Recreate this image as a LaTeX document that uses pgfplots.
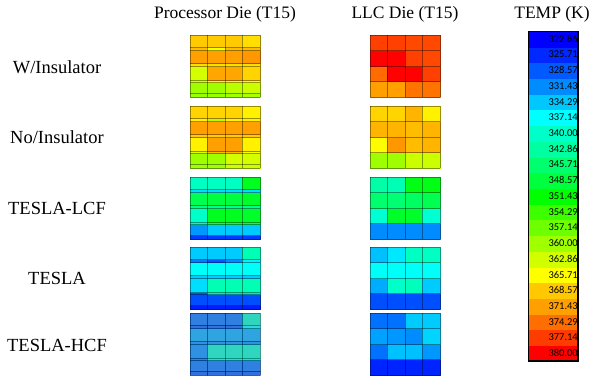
\documentclass[border=0pt]{standalone}
\usepackage{pgfplots}
\pgfplotsset{compat=1.18}
\usepackage{fontspec}
\setmainfont{Liberation Serif}
\newfontfamily\cbfont{Carlito}
\definecolor{hcfbg}{RGB}{120,150,180}
\tikzset{cbl/.style={anchor=east, inner sep=0pt, text=black, font=\cbfont\fontsize{10.5}{12}\selectfont}}
\pgfplotsset{
  colormap={temp}{rgb255=(0,0,255) rgb255=(0,40,255) rgb255=(0,90,255) rgb255=(0,140,255) rgb255=(0,200,255) rgb255=(0,255,255) rgb255=(0,255,200) rgb255=(0,255,160) rgb255=(0,255,110) rgb255=(0,255,60) rgb255=(0,255,0) rgb255=(60,255,0) rgb255=(110,255,0) rgb255=(160,255,0) rgb255=(210,255,0) rgb255=(255,255,0) rgb255=(255,200,0) rgb255=(255,160,0) rgb255=(255,110,0) rgb255=(255,60,0) rgb255=(255,0,0)},
  hmbase/.style={
    view={0}{90}, scale only axis, width=70pt, height=62pt, anchor=south west,
    xmin=0, xmax=4, ymin=0, ymax=62, zmin=-1, zmax=1,
    colormap name=temp, point meta min=321.43, point meta max=378.57,
    xtick={0,1,2,3,4}, xticklabels={}, yticklabels={}, ztick=\empty,
    grid=major, major grid style={black, opacity=0.4, line width=0.45pt},
    axis on top, axis line style={draw=none}, major tick length=0pt, clip=false,
  },
  hmP/.style={hmbase, ytick={0,3.5,14.5,17,31,33.5,47,50,62}},
  hmL/.style={hmbase, ytick={0,15.5,31,46.5,62}},
  hs/.style={surf, shader=flat corner, mesh/cols=5, point meta=\thisrow{t}},
}
\begin{document}
\begin{tikzpicture}
\useasboundingbox (0,0) rectangle (597pt,375pt);
% titles
\node[font=\fontsize{17.5}{20}\selectfont] at (225pt,361pt) {Processor Die (T15)};
\node[font=\fontsize{17.5}{20}\selectfont] at (405pt,361pt) {LLC Die (T15)};
\node[font=\fontsize{17.5}{20}\selectfont] at (552pt,361pt) {TEMP (K)};
% row labels
\node[font=\fontsize{18.5}{21}\selectfont] at (57pt,308pt) {W/Insulator};
\node[font=\fontsize{18.5}{21}\selectfont] at (57pt,238pt) {No/Insulator};
\node[font=\fontsize{18.5}{21}\selectfont] at (57pt,167pt) {TESLA-LCF};
\node[font=\fontsize{18.5}{21}\selectfont] at (57pt,97pt) {TESLA};
\node[font=\fontsize{18.5}{21}\selectfont] at (57pt,30pt) {TESLA-HCF};

% ---------- W/Insulator ----------
\begin{axis}[hmP, at={(190pt,278pt)}]
\addplot3[hs] table[row sep=\\, x=x, y=y, z expr=0] {
x y t\\
0 62 367\\ 1 62 367\\ 2 62 367\\ 3 62 366\\ 4 62 366\\
0 50 368\\ 1 50 364\\ 2 50 368\\ 3 50 368\\ 4 50 368\\
0 47 370\\ 1 47 370\\ 2 47 370\\ 3 47 370.5\\ 4 47 370.5\\
0 33.5 366\\ 1 33.5 366\\ 2 33.5 366\\ 3 33.5 366\\ 4 33.5 366\\
0 31 361.5\\ 1 31 369.5\\ 2 31 369.5\\ 3 31 366.5\\ 4 31 366.5\\
0 17 362\\ 1 17 364\\ 2 17 364\\ 3 17 364\\ 4 17 364\\
0 14.5 358.5\\ 1 14.5 358.5\\ 2 14.5 360\\ 3 14.5 361\\ 4 14.5 361\\
0 3.5 358\\ 1 3.5 358\\ 2 3.5 358.5\\ 3 3.5 359\\ 4 3.5 359\\
0 0 358\\ 1 0 358\\ 2 0 358.5\\ 3 0 359\\ 4 0 359\\
};
\end{axis}
\begin{axis}[hmL, at={(370pt,278pt)}]
\addplot3[hs] table[row sep=\\, x=x, y=y, z expr=0] {
x y t\\
0 62 375.5\\ 1 62 375.5\\ 2 62 375\\ 3 62 375\\ 4 62 375\\
0 46.5 378.5\\ 1 46.5 378.5\\ 2 46.5 375.5\\ 3 46.5 375\\ 4 46.5 375\\
0 31 373\\ 1 31 378.5\\ 2 31 378.5\\ 3 31 375.5\\ 4 31 375.5\\
0 15.5 370\\ 1 15.5 370\\ 2 15.5 372.5\\ 3 15.5 372.5\\ 4 15.5 372.5\\
0 0 370\\ 1 0 370\\ 2 0 372.5\\ 3 0 372.5\\ 4 0 372.5\\
};
\end{axis}

% ---------- No/Insulator ----------
\begin{axis}[hmP, at={(190pt,207pt)}]
\addplot3[hs] table[row sep=\\, x=x, y=y, z expr=0] {
x y t\\
0 62 366.5\\ 1 62 366.5\\ 2 62 366.5\\ 3 62 365\\ 4 62 365\\
0 50 365\\ 1 50 360\\ 2 50 365\\ 3 50 365\\ 4 50 365\\
0 47 370\\ 1 47 370\\ 2 47 370\\ 3 47 370\\ 4 47 370\\
0 33.5 367\\ 1 33.5 367\\ 2 33.5 367\\ 3 33.5 367\\ 4 33.5 367\\
0 31 365\\ 1 31 370\\ 2 31 370\\ 3 31 365\\ 4 31 365\\
0 17 362\\ 1 17 368\\ 2 17 368\\ 3 17 364\\ 4 17 364\\
0 14.5 358.5\\ 1 14.5 358.5\\ 2 14.5 361.5\\ 3 14.5 361.5\\ 4 14.5 361.5\\
0 3.5 358.5\\ 1 3.5 358.5\\ 2 3.5 361\\ 3 3.5 361\\ 4 3.5 361\\
0 0 358.5\\ 1 0 358.5\\ 2 0 361\\ 3 0 361\\ 4 0 361\\
};
\end{axis}
\begin{axis}[hmL, at={(370pt,207pt)}]
\addplot3[hs] table[row sep=\\, x=x, y=y, z expr=0] {
x y t\\
0 62 366.5\\ 1 62 366.5\\ 2 62 368.5\\ 3 62 365\\ 4 62 365\\
0 46.5 368.5\\ 1 46.5 368.5\\ 2 46.5 368\\ 3 46.5 368.5\\ 4 46.5 368.5\\
0 31 364.5\\ 1 31 370.5\\ 2 31 368\\ 3 31 368.5\\ 4 31 368.5\\
0 15.5 358.5\\ 1 15.5 358.5\\ 2 15.5 361\\ 3 15.5 361\\ 4 15.5 361\\
0 0 358.5\\ 1 0 358.5\\ 2 0 361\\ 3 0 361\\ 4 0 361\\
};
\end{axis}

% ---------- TESLA-LCF ----------
\begin{axis}[hmP, at={(190pt,136pt)}]
\addplot3[hs] table[row sep=\\, x=x, y=y, z expr=0] {
x y t\\
0 62 339\\ 1 62 339\\ 2 62 339\\ 3 62 348.5\\ 4 62 348.5\\
0 50 334\\ 1 50 334\\ 2 50 334\\ 3 50 334\\ 4 50 334\\
0 47 346\\ 1 47 347\\ 2 47 347\\ 3 47 348\\ 4 47 348\\
0 33.5 343\\ 1 33.5 343\\ 2 33.5 343\\ 3 33.5 343\\ 4 33.5 343\\
0 31 338.5\\ 1 31 348.5\\ 2 31 348.5\\ 3 31 348\\ 4 31 348\\
0 17 340\\ 1 17 345\\ 2 17 345\\ 3 17 345\\ 4 17 345\\
0 14.5 330.5\\ 1 14.5 333\\ 2 14.5 333\\ 3 14.5 333\\ 4 14.5 333\\
0 3.5 325.5\\ 1 3.5 325.5\\ 2 3.5 325.5\\ 3 3.5 325.5\\ 4 3.5 325.5\\
0 0 325.5\\ 1 0 325.5\\ 2 0 325.5\\ 3 0 325.5\\ 4 0 325.5\\
};
\end{axis}
\begin{axis}[hmL, at={(370pt,136pt)}]
\addplot3[hs] table[row sep=\\, x=x, y=y, z expr=0] {
x y t\\
0 62 341\\ 1 62 340\\ 2 62 349\\ 3 62 349\\ 4 62 349\\
0 46.5 344.3\\ 1 46.5 344\\ 2 46.5 345\\ 3 46.5 346\\ 4 46.5 346\\
0 31 338\\ 1 31 348\\ 2 31 348\\ 3 31 338\\ 4 31 338\\
0 15.5 330\\ 1 15.5 330\\ 2 15.5 330\\ 3 15.5 330\\ 4 15.5 330\\
0 0 330\\ 1 0 330\\ 2 0 330\\ 3 0 330\\ 4 0 330\\
};
\end{axis}

% ---------- TESLA ----------
\begin{axis}[hmP, at={(190pt,66pt)}]
\addplot3[hs] table[row sep=\\, x=x, y=y, z expr=0] {
x y t\\
0 62 333\\ 1 62 333\\ 2 62 333\\ 3 62 340\\ 4 62 340\\
0 50 329\\ 1 50 327\\ 2 50 330\\ 3 50 335\\ 4 50 335\\
0 47 336\\ 1 47 336\\ 2 47 336\\ 3 47 336\\ 4 47 336\\
0 33.5 333\\ 1 33.5 333\\ 2 33.5 333\\ 3 33.5 333\\ 4 33.5 333\\
0 31 334\\ 1 31 340\\ 2 31 340\\ 3 31 340\\ 4 31 340\\
0 17 327\\ 1 17 334\\ 2 17 334\\ 3 17 334\\ 4 17 334\\
0 14.5 326.5\\ 1 14.5 326.5\\ 2 14.5 326.5\\ 3 14.5 326.5\\ 4 14.5 326.5\\
0 3.5 323.5\\ 1 3.5 323.5\\ 2 3.5 323.5\\ 3 3.5 323.5\\ 4 3.5 323.5\\
0 0 323.5\\ 1 0 323.5\\ 2 0 323.5\\ 3 0 323.5\\ 4 0 323.5\\
};
\end{axis}
\begin{axis}[hmL, at={(370pt,66pt)}]
\addplot3[hs] table[row sep=\\, x=x, y=y, z expr=0] {
x y t\\
0 62 332.5\\ 1 62 334.5\\ 2 62 339\\ 3 62 339\\ 4 62 339\\
0 46.5 336\\ 1 46.5 336\\ 2 46.5 336\\ 3 46.5 336\\ 4 46.5 336\\
0 31 331.5\\ 1 31 338.5\\ 2 31 339.5\\ 3 31 333\\ 4 31 333\\
0 15.5 326.5\\ 1 15.5 326.5\\ 2 15.5 326.5\\ 3 15.5 326.5\\ 4 15.5 326.5\\
0 0 326.5\\ 1 0 326.5\\ 2 0 326.5\\ 3 0 326.5\\ 4 0 326.5\\
};
\end{axis}

% ---------- TESLA-HCF ----------
\begin{axis}[hmP, at={(190pt,0pt)}]
\fill[hcfbg] (axis cs:0,0,0) rectangle (axis cs:4,62,0);
\addplot3[hs, opacity=0.6] table[row sep=\\, x=x, y=y, z expr=0] {
x y t\\
0 62 328.5\\ 1 62 328.5\\ 2 62 328.5\\ 3 62 338.5\\ 4 62 338.5\\
0 50 327\\ 1 50 327\\ 2 50 327\\ 3 50 336\\ 4 50 336\\
0 47 331.5\\ 1 47 331.5\\ 2 47 331.5\\ 3 47 331.5\\ 4 47 331.5\\
0 33.5 330\\ 1 33.5 330\\ 2 33.5 330\\ 3 33.5 330\\ 4 33.5 330\\
0 31 330\\ 1 31 338.5\\ 2 31 338.5\\ 3 31 338.5\\ 4 31 338.5\\
0 17 329\\ 1 17 336\\ 2 17 336\\ 3 17 336\\ 4 17 336\\
0 14.5 328.5\\ 1 14.5 328.5\\ 2 14.5 328.5\\ 3 14.5 328.5\\ 4 14.5 328.5\\
0 3.5 327\\ 1 3.5 327\\ 2 3.5 327\\ 3 3.5 327\\ 4 3.5 327\\
0 0 327\\ 1 0 327\\ 2 0 327\\ 3 0 327\\ 4 0 327\\
};
\end{axis}
\begin{axis}[hmL, at={(370pt,0pt)}]
\addplot3[hs] table[row sep=\\, x=x, y=y, z expr=0] {
x y t\\
0 62 328.5\\ 1 62 328.5\\ 2 62 333\\ 3 62 333\\ 4 62 333\\
0 46.5 331\\ 1 46.5 330.5\\ 2 46.5 330\\ 3 46.5 333.5\\ 4 46.5 333.5\\
0 31 328.5\\ 1 31 332.5\\ 2 31 332.5\\ 3 31 330.5\\ 4 31 330.5\\
0 15.5 324\\ 1 15.5 324\\ 2 15.5 324\\ 3 15.5 324\\ 4 15.5 324\\
0 0 324\\ 1 0 324\\ 2 0 324\\ 3 0 324\\ 4 0 324\\
};
\end{axis}

% ---------- colour bar ----------
\begin{axis}[view={0}{90}, scale only axis, width=50pt, height=330pt, at={(528pt,14pt)}, anchor=south west,
  xmin=0, xmax=1, ymin=0, ymax=21, zmin=-1, zmax=1, hide axis, clip=false,
  colormap name=temp, point meta min=321.43, point meta max=378.57]
\addplot3[surf, shader=flat corner, mesh/cols=2, point meta=\thisrow{t}] table[row sep=\\, x=x, y=y, z expr=0] {
x y t\\
0 21 321.43\\ 1 21 321.43\\
0 20 324.29\\ 1 20 324.29\\
0 19 327.14\\ 1 19 327.14\\
0 18 330.00\\ 1 18 330.00\\
0 17 332.86\\ 1 17 332.86\\
0 16 335.71\\ 1 16 335.71\\
0 15 338.57\\ 1 15 338.57\\
0 14 341.43\\ 1 14 341.43\\
0 13 344.29\\ 1 13 344.29\\
0 12 347.14\\ 1 12 347.14\\
0 11 350.00\\ 1 11 350.00\\
0 10 352.86\\ 1 10 352.86\\
0 9 355.71\\ 1 9 355.71\\
0 8 358.57\\ 1 8 358.57\\
0 7 361.43\\ 1 7 361.43\\
0 6 364.29\\ 1 6 364.29\\
0 5 367.14\\ 1 5 367.14\\
0 4 370.00\\ 1 4 370.00\\
0 3 372.86\\ 1 3 372.86\\
0 2 375.71\\ 1 2 375.71\\
0 1 378.57\\ 1 1 378.57\\
0 0 378.57\\ 1 0 378.57\\
};
\draw[black, line width=0.6pt] (axis cs:0,0,0) rectangle (axis cs:1,21,0);
\draw[black, line width=1.8pt] (axis cs:1,21,0) -- (axis cs:1,0,0) -- (axis cs:0,0,0);
\node[cbl] at (axis cs:1,20.5,0) {322.86};
\node[cbl] at (axis cs:1,19.5,0) {325.71};
\node[cbl] at (axis cs:1,18.5,0) {328.57};
\node[cbl] at (axis cs:1,17.5,0) {331.43};
\node[cbl] at (axis cs:1,16.5,0) {334.29};
\node[cbl] at (axis cs:1,15.5,0) {337.14};
\node[cbl] at (axis cs:1,14.5,0) {340.00};
\node[cbl] at (axis cs:1,13.5,0) {342.86};
\node[cbl] at (axis cs:1,12.5,0) {345.71};
\node[cbl] at (axis cs:1,11.5,0) {348.57};
\node[cbl] at (axis cs:1,10.5,0) {351.43};
\node[cbl] at (axis cs:1,9.5,0) {354.29};
\node[cbl] at (axis cs:1,8.5,0) {357.14};
\node[cbl] at (axis cs:1,7.5,0) {360.00};
\node[cbl] at (axis cs:1,6.5,0) {362.86};
\node[cbl] at (axis cs:1,5.5,0) {365.71};
\node[cbl] at (axis cs:1,4.5,0) {368.57};
\node[cbl] at (axis cs:1,3.5,0) {371.43};
\node[cbl] at (axis cs:1,2.5,0) {374.29};
\node[cbl] at (axis cs:1,1.5,0) {377.14};
\node[cbl] at (axis cs:1,0.5,0) {380.00};
\end{axis}
\end{tikzpicture}
\end{document}
